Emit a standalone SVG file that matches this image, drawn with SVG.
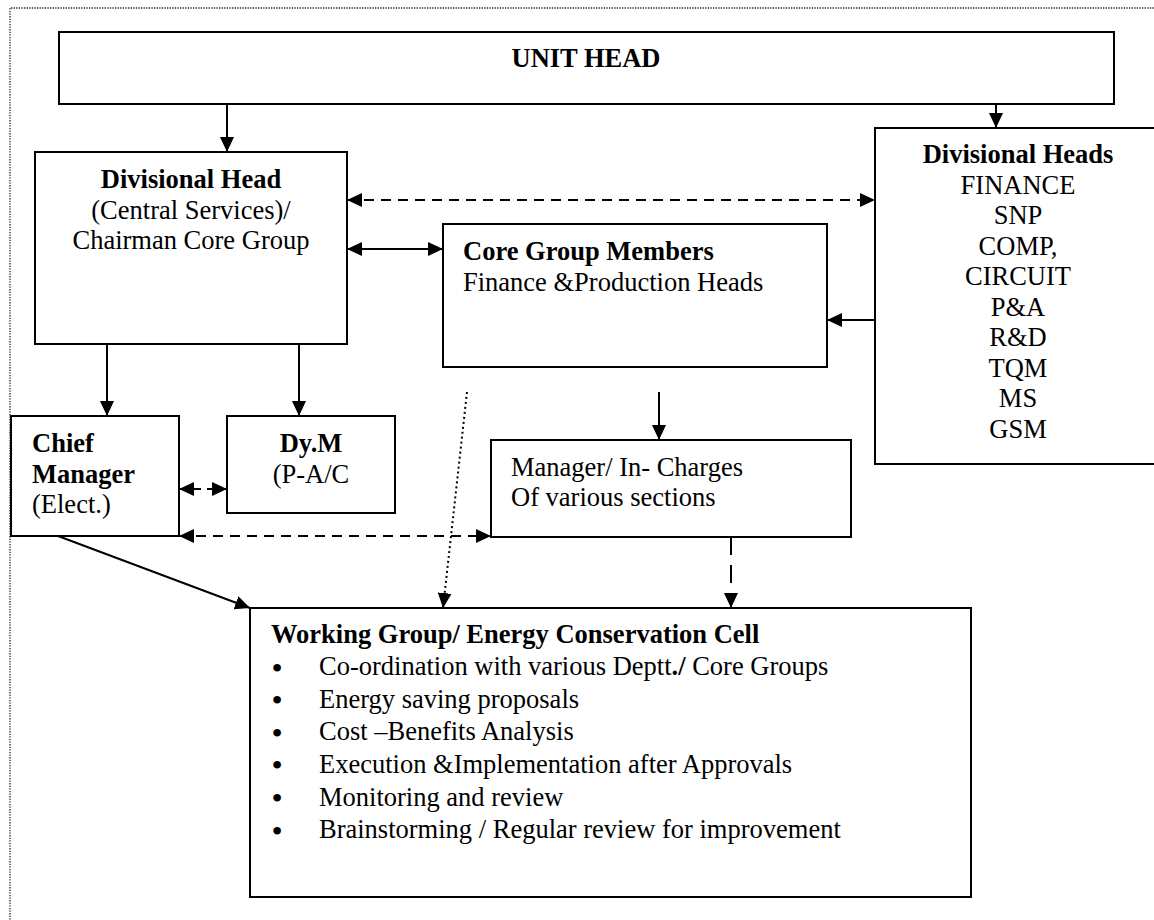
<svg xmlns="http://www.w3.org/2000/svg" width="1154" height="920" viewBox="0 0 1154 920">
<style>
text{font-family:"Liberation Serif","Times New Roman",serif;font-size:26.5px;fill:#000}
.b{font-weight:bold}
.c{text-anchor:middle}
.bul{text-anchor:middle;font-size:32px}
.box{fill:#fff;stroke:#000;stroke-width:2}
.ln{fill:none;stroke:#000;stroke-width:2}
.dash{stroke-dasharray:10 7}
.dash2{stroke-dasharray:8 6}
.ldash{stroke-dasharray:18 10}
.dot{stroke-dasharray:2 3;stroke-width:2}
.frame{fill:none;stroke:#222;stroke-width:1.3;stroke-dasharray:1.3 1.3}
</style>
<defs>
<marker id="ah" viewBox="0 0 15 14" refX="15" refY="7" markerWidth="15" markerHeight="14" markerUnits="userSpaceOnUse" orient="auto-start-reverse">
<path d="M0,0 L15,7 L0,14 z" fill="#000"/>
</marker>
</defs>
<rect width="1154" height="920" fill="#fff"/>
<path class="frame" d="M10,930 L10,8 L1170,8"/>

<g id="unit-head">
<rect class="box" x="59" y="32" width="1055" height="72"/>
<text class="b c" x="586" y="67">UNIT HEAD</text>
</g>

<g id="divisional-head">
<rect class="box" x="35" y="152" width="312" height="192"/>
<text class="b c" x="191" y="188">Divisional Head</text>
<text class="c" x="191" y="218.5">(Central Services)/</text>
<text class="c" x="191" y="249">Chairman Core Group</text>
</g>

<g id="divisional-heads">
<rect class="box" x="875" y="128" width="290" height="336"/>
<text class="b c" x="1018" y="163">Divisional Heads</text>
<text class="c" x="1018" y="193.5">FINANCE</text>
<text class="c" x="1018" y="224">SNP</text>
<text class="c" x="1018" y="254.5">COMP,</text>
<text class="c" x="1018" y="285">CIRCUIT</text>
<text class="c" x="1018" y="315.5">P&amp;A</text>
<text class="c" x="1018" y="346">R&amp;D</text>
<text class="c" x="1018" y="376.5">TQM</text>
<text class="c" x="1018" y="407">MS</text>
<text class="c" x="1018" y="437.5">GSM</text>
</g>

<g id="core-group">
<rect class="box" x="443" y="224" width="384" height="143"/>
<text class="b" x="463" y="260">Core Group Members</text>
<text x="463" y="290.5">Finance &amp;Production Heads</text>
</g>

<g id="chief-manager">
<rect class="box" x="11" y="416" width="168" height="120"/>
<text class="b" x="32" y="452">Chief</text>
<text class="b" x="32" y="482.5">Manager</text>
<text x="32" y="513">(Elect.)</text>
</g>

<g id="dy-m">
<rect class="box" x="227" y="416" width="168" height="97"/>
<text class="b c" x="311" y="452">Dy.M</text>
<text class="c" x="311" y="482.5">(P-A/C</text>
</g>

<g id="manager-incharges">
<rect class="box" x="491" y="440" width="360" height="97"/>
<text x="511" y="475.5">Manager/ In- Charges</text>
<text x="511" y="506">Of various sections</text>
</g>

<g id="working-group">
<rect class="box" x="250" y="608" width="721" height="289"/>
<text class="b" x="271" y="643">Working Group/ Energy Conservation Cell</text>
<text class="bul" x="277" y="678.5">•</text>
<text x="319" y="675">Co-ordination with various Deptt<tspan class="b">./</tspan> Core Groups</text>
<text class="bul" x="277" y="711">•</text>
<text x="319" y="707.5">Energy saving proposals</text>
<text class="bul" x="277" y="743.5">•</text>
<text x="319" y="740">Cost –Benefits Analysis</text>
<text class="bul" x="277" y="776">•</text>
<text x="319" y="772.5">Execution &amp;Implementation after Approvals</text>
<text class="bul" x="277" y="809">•</text>
<text x="319" y="805.5">Monitoring and review</text>
<text class="bul" x="277" y="841.5">•</text>
<text x="319" y="838">Brainstorming / Regular review for improvement</text>
</g>

<g id="connectors">
<line class="ln" x1="227" y1="104" x2="227" y2="152" marker-end="url(#ah)"/>
<line class="ln" x1="996" y1="104" x2="996" y2="128" marker-end="url(#ah)"/>
<line class="ln dash" x1="347" y1="200" x2="875" y2="200" marker-start="url(#ah)" marker-end="url(#ah)"/>
<line class="ln" x1="347" y1="249" x2="443" y2="249" marker-start="url(#ah)" marker-end="url(#ah)"/>
<line class="ln" x1="875" y1="320" x2="827" y2="320" marker-end="url(#ah)"/>
<line class="ln" x1="107" y1="344" x2="107" y2="416" marker-end="url(#ah)"/>
<line class="ln" x1="299" y1="344" x2="299" y2="416" marker-end="url(#ah)"/>
<line class="ln" x1="659" y1="392" x2="659" y2="440" marker-end="url(#ah)"/>
<line class="ln dash2" x1="179" y1="489" x2="227" y2="489" marker-start="url(#ah)" marker-end="url(#ah)"/>
<line class="ln dash" x1="179" y1="536" x2="491" y2="536" marker-start="url(#ah)" marker-end="url(#ah)"/>
<line class="ln dot" x1="467" y1="392" x2="443" y2="608" marker-end="url(#ah)"/>
<line class="ln ldash" x1="731" y1="537" x2="731" y2="608" marker-end="url(#ah)"/>
<line class="ln" x1="58" y1="536" x2="250" y2="608" marker-end="url(#ah)"/>
</g>
</svg>
